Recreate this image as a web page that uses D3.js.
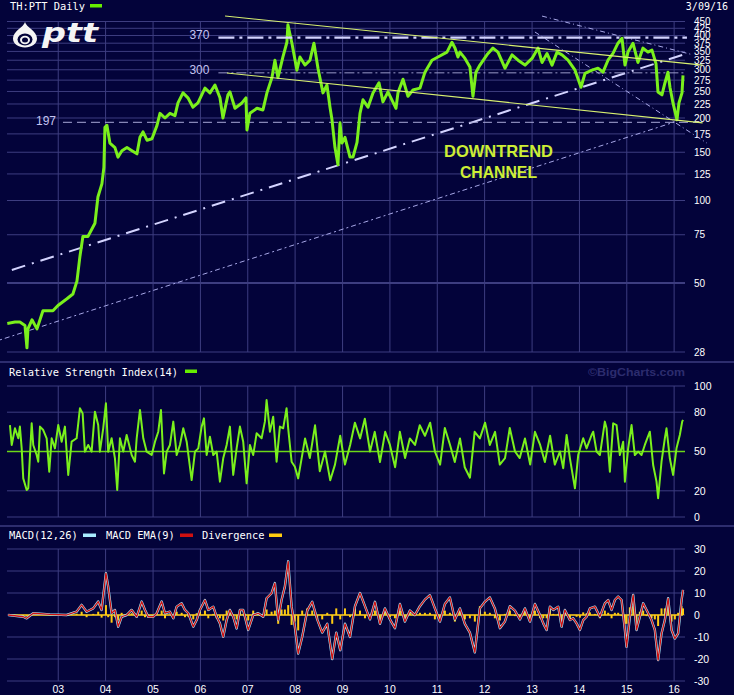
<!DOCTYPE html>
<html><head><meta charset="utf-8">
<script src="https://cdn.jsdelivr.net/npm/d3@7"></script>
<style>html,body{margin:0;padding:0;background:#03033a;}svg{display:block}</style>
</head><body><svg id="c" width="734" height="695"></svg>
<script>
// ---------------- DATA (decimal years) ----------------
const priceYears = [
2001.924,2002.086,2002.19,2002.297,2002.339,2002.36,2002.445,2002.551,2002.677,2002.888,2002.994,
2003.184,2003.310,2003.395,2003.458,2003.521,2003.627,2003.775,2003.838,2003.922,2003.964,2003.986,
2004.028,2004.091,2004.197,2004.260,2004.344,2004.450,2004.555,2004.661,2004.724,2004.788,2004.872,2004.977,
2005.083,2005.146,2005.252,2005.357,2005.463,2005.526,2005.632,2005.737,2005.843,2005.948,
2006.096,2006.202,2006.307,2006.413,2006.476,2006.582,2006.624,2006.730,2006.877,2006.962,2006.983,
2007.046,2007.194,2007.321,2007.405,2007.511,2007.574,2007.637,2007.743,2007.827,2007.848,2007.933,
2008.038,2008.102,2008.207,2008.313,2008.397,2008.482,2008.587,2008.671,2008.735,2008.777,2008.840,2008.903,2008.946,2008.988,
2009.051,2009.157,2009.220,2009.305,2009.368,2009.431,2009.537,2009.642,2009.769,2009.853,2009.959,
2010.128,2010.170,2010.276,2010.381,2010.487,2010.635,2010.740,2010.888,
2011.015,2011.205,2011.310,2011.374,2011.437,2011.479,2011.585,2011.690,2011.754,2011.817,2011.901,
2012.049,2012.176,2012.281,2012.429,2012.577,2012.704,2012.851,2012.999,
2013.126,2013.210,2013.316,2013.421,2013.527,2013.632,2013.759,2013.907,
2014.033,2014.118,2014.266,2014.392,2014.498,2014.603,2014.709,2014.814,2014.899,2014.962,
2015.025,2015.131,2015.236,2015.342,2015.447,2015.532,2015.617,2015.659,2015.743,2015.807,2015.870,2015.912,2015.976,
2016.060,2016.102,2016.166,2016.187];
const priceValues = [
35.6,36,36,35,29,34,36.7,34,39.6,39.6,41.4,
43.8,45.6,50.8,62.5,73.9,73.9,82.6,103,115,132,185,
188,162,156,144,152,156,152,148,170,178,166,168,
188,208,200,208,204,227,247,237,219,227,
257,247,264,237,200,243,249,217,227,237,181,
208,217,214,247,281,325,281,334,378,438,375,
299,334,312,325,375,304,247,264,219,197,156,135,192,162,
170,144,144,163,208,233,219,247,269,229,249,
217,247,277,240,253,257,294,325,
334,348,378,360,334,348,330,307,240,294,312,
340,360,348,304,340,325,312,330,
360,319,344,312,348,340,325,299,
259,291,299,304,294,325,344,375,391,312,
348,375,319,360,348,354,316,249,243,269,294,259,227,
197,227,247,286];

const rsiYears = [
2001.98,2002.017,2002.086,2002.156,2002.19,2002.228,2002.261,2002.333,2002.367,2002.403,2002.439,2002.472,2002.544,2002.578,2002.614,2002.683,2002.755,2002.810,2002.861,2002.930,
2003.000,2003.072,2003.141,2003.211,2003.283,2003.388,2003.458,2003.515,2003.563,2003.633,2003.705,2003.775,2003.844,2003.880,2003.950,
2004.007,2004.055,2004.127,2004.197,2004.245,2004.302,2004.372,2004.444,2004.549,2004.619,2004.655,2004.724,2004.794,2004.866,2004.971,
2005.041,2005.110,2005.167,2005.231,2005.288,2005.357,2005.427,2005.499,2005.568,2005.638,2005.710,2005.815,2005.885,2005.955,
2006.026,2006.075,2006.132,2006.201,2006.271,2006.343,2006.412,2006.482,2006.554,2006.623,2006.693,2006.765,2006.835,2006.904,2006.976,
2007.046,2007.115,2007.187,2007.293,2007.362,2007.398,2007.468,2007.537,2007.609,2007.679,2007.748,2007.820,2007.854,2007.926,2007.995,
2008.065,
2008.21,2008.31,2008.42,2008.52,2008.63,2008.74,2008.84,2008.95,
2009.05,2009.16,2009.26,2009.37,2009.47,2009.58,2009.68,2009.79,2009.90,
2010.00,2010.11,2010.21,2010.32,2010.42,2010.53,2010.63,2010.74,2010.85,2010.95,
2011.06,2011.16,2011.27,2011.37,2011.48,2011.58,2011.69,2011.79,2011.90,
2012.01,2012.11,2012.22,2012.32,2012.43,2012.53,2012.64,2012.74,2012.85,2012.96,
2013.06,2013.17,2013.27,2013.38,2013.48,
2013.588,2013.658,2013.729,2013.799,2013.905,2013.974,2014.080,2014.151,2014.257,2014.291,2014.362,2014.432,2014.537,2014.573,2014.643,2014.713,2014.784,2014.854,2014.924,2014.960,
2015.029,2015.101,2015.170,2015.240,2015.312,2015.381,2015.487,2015.557,2015.628,2015.662,2015.734,2015.804,2015.839,2015.909,2015.979,2016.050,2016.120,2016.170,2016.187];
const rsiValues = [
70.2,55.0,67.7,60.1,69.0,52.4,29.5,20.6,21.9,47.3,71.5,55.0,47.3,42.2,69.0,66.4,60.1,34.6,60.1,52.4,
70.2,57.5,69.0,32.1,57.5,60.1,83.0,79.1,49.9,55.0,49.9,80.4,70.2,49.9,67.7,
86.8,49.9,60.1,44.8,20.6,60.1,49.9,62.6,47.3,42.2,60.1,81.7,60.1,49.9,47.3,
57.5,65.1,81.7,33.3,49.9,55.0,72.8,47.3,55.0,67.7,57.5,28.2,49.9,52.4,
69.0,75.3,47.3,61.3,47.3,49.9,27.0,44.8,55.0,69.0,32.1,52.4,69.0,57.5,25.7,
55.0,47.3,63.9,60.1,72.8,89.3,65.1,76.6,42.2,69.0,67.7,83.0,67.7,42.2,38.4,
29.5,
60,45,70,35,50,28,40,62,
40,55,72,60,75,50,65,42,65,
55,38,65,45,60,55,70,62,72,50,
40,68,55,42,60,38,30,65,60,
72,55,65,40,45,68,50,45,60,40,
65,55,42,62,40,
50,37.2,62.6,44.8,21.9,47.3,60.1,52.4,62.6,65.1,49.9,47.3,72.8,67.7,34.6,71.5,70.2,47.3,57.5,27.0,
52.4,70.2,47.3,49.9,47.3,55.0,65.1,39.7,27.0,14.3,42.2,60.1,67.7,44.8,32.1,52.4,62.6,72.8,74.1];

const macdYears = [
2001.945,2002.261,2002.333,2002.472,2002.825,
2003.177,2003.388,2003.494,2003.599,2003.739,2003.844,2003.916,
2004.007,2004.055,2004.127,2004.197,2004.266,2004.338,2004.444,2004.549,2004.655,2004.760,2004.830,2004.899,
2005.005,2005.077,2005.182,2005.252,2005.357,2005.427,2005.499,2005.604,2005.674,2005.744,2005.849,2005.921,2005.990,
2006.096,2006.166,2006.271,2006.343,2006.412,2006.482,2006.554,2006.623,2006.693,2006.765,2006.835,2006.904,
2007.010,2007.115,2007.221,2007.326,2007.398,2007.503,2007.573,2007.643,2007.714,2007.784,2007.854,2007.926,2007.995,
2008.065,2008.149,2008.255,2008.360,2008.466,2008.571,2008.677,2008.782,2008.867,2008.951,
2009.051,2009.157,2009.262,2009.368,2009.473,2009.579,2009.684,2009.790,2009.895,
2010.001,2010.106,2010.212,2010.317,2010.423,2010.528,2010.634,2010.739,2010.845,2010.950,
2011.056,2011.161,2011.267,2011.372,2011.478,2011.583,2011.689,2011.794,2011.900,
2012.005,2012.111,2012.216,2012.322,2012.427,2012.533,2012.638,2012.744,2012.849,2012.955,
2013.060,2013.166,2013.236,2013.307,2013.377,2013.447,2013.552,2013.623,2013.693,2013.799,2013.868,2013.940,
2014.010,2014.080,2014.151,2014.221,2014.327,2014.432,2014.537,2014.607,2014.679,2014.748,2014.818,2014.890,2014.960,2014.995,
2015.065,2015.135,2015.206,2015.276,2015.346,2015.418,2015.523,2015.593,2015.662,2015.734,2015.804,2015.874,2015.946,
2016.015,2016.085,2016.157,2016.187];
const macdValues = [
0,-0.8,-1.5,0.8,0.3,
0,1.5,4.6,1.5,3.0,6.1,2.3,
19.0,12.9,0.8,2.3,-5.3,-0.8,0,2.3,-0.8,6.1,2.3,-0.8,
-0.8,0.8,6.1,0.8,1.5,-1.5,3.8,5.3,2.3,0.8,-5.3,-2.3,2.3,
6.8,2.3,3.8,-0.8,-3.8,-9.9,-2.3,2.3,-0.8,-6.1,2.3,2.3,
-6.8,0,0.8,-0.8,7.6,9.9,14.5,-2.3,6.8,12.9,24.4,3.8,-5.3,
-17.5,-10,2,6,-2,-8,-4,-20,-8,-16,
-4,-10,4,10,4,-2,6,-4,3,
-2,-6,5,-3,2,0,4,7,9,3,
-3,5,8,-2,3,-4,-8,-17,3,
6,8,3,-6,-3,4,2,-2,3,-3,
5,0,-3.8,-6.8,3.8,2.3,3.8,-5.3,2.3,-2.3,-1.5,-3.8,
-6.8,-2.3,-0.8,3.0,3.8,-0.8,5.3,6.8,2.3,6.8,8.4,6.8,-6.8,-14.5,
-0.8,9.1,-6.8,-0.8,5.3,2.3,-2.3,-6.8,-20.5,-8.4,-2.3,7.6,-6.8,
-10.7,-8.4,6.8,11.4];
const divergenceValues = [
0,-0.5,-0.6,0.8,0.1,
0,0.6,1.5,-1,0.5,1.5,-1.2,
4.5,-1,-3.5,-1,-2.5,1,0.5,0.8,-1,2,-1,-1.2,
-0.3,0.5,2,-1.5,0.2,-1,1.5,1,-1,-0.8,-2,0.8,1.5,
2,-1.5,0.5,-1.5,-1.5,-2.5,2,2,-1,-2,2.5,0.5,
-2.5,2,0.5,-0.5,2.5,1.5,2,-4,2.5,2.5,4.5,-4.5,-3,
-7,2,3,2,-2,-2,1,-4,3,-2,
3,-1,3,2,-1.5,-2,2,-2,1.5,
-1,-1.5,2,-2,1,-0.5,1,1,1,-2,
-2,2,1,-3,1.5,-2,-1.5,-3,4,
1.5,1,-1.5,-2.5,0.5,2,-0.5,-1,1.5,-1.5,
2,-1.5,-1.5,-1.5,3,0.5,0.5,-2.5,2,-1.5,0,-0.8,
-1.2,1.2,0.8,1.2,0.5,-1.5,2,1,-1.5,1,1,-0.5,-4,-4,
3.5,4,-4,1.5,2,-0.5,-1.5,-2,-5,3,3,4,-3,
-2,1,4,3];

const priceTicks = [28,50,75,100,125,150,175,200,225,250,275,300,325,350,375,400,425,450];
const rsiTicks = [0,20,50,80,100];
const macdTicks = [-30,-20,-10,0,10,20,30];

// annotation lines: [year, price] endpoints
const upperChannel = [[2006.52,471],[2016.60,312]];
const lowerChannel = [[2006.56,292],[2016.60,192]];
const line370 = [[2006.38,392.7],[2016.27,392.7]];
const line300 = [[2006.38,292.3],[2016.23,292.3]];
const line197 = [[2003.10,192.9],[2016.55,192.9]];
const riseDashDot = [[2002.02,55.8],[2016.29,345]];
const riseDotted = [[2001.77,31.0],[2016.01,193.4]];
const fallA = [[2013.21,471],[2016.40,340]];
const fallB = [[2013.06,412],[2016.69,162]];

// ---------------- DRAW ----------------
const BG = "#03033a", GRID = "#3d3d80", WHITE = "#ffffff";
const GREEN = "#7af01c";
const toDate = v => { const y = Math.floor(v); const a = Date.UTC(y,0,1), b = Date.UTC(y+1,0,1); return new Date(a + (v-y)*(b-a)); };

const svg = d3.select("#c");
svg.append("rect").attr("width",734).attr("height",695).attr("fill",BG);

const X0 = 7, X1 = 685;
const x = d3.scaleUtc()
  .domain([toDate(priceYears[0]), toDate(priceYears[priceYears.length-1])])
  .range([7.3, 683]);
const yP = d3.scaleLog().domain([28,450]).range([352,21.5]);
const yR = d3.scaleLinear().domain([0,100]).range([517,386]);
const yM = d3.scaleLinear().domain([-30,30]).range([681,549]);

// first labelled year boundary is 2003 (the partial first month carries none)
const yearTicks = x.ticks(d3.utcYear.every(1)).filter(d => x(d) > 30 && x(d) < X1);

const g = svg.append("g");
const sans = "'Liberation Sans', Arial, sans-serif";
const mono = "'DejaVu Sans Mono', monospace";

function panelGrid(yScale, ticks, top, bottom, skip) {
  ticks.forEach(t => {
    if (skip && skip(t)) return;
    g.append("line").attr("x1",X0).attr("x2",X1)
      .attr("y1",yScale(t)).attr("y2",yScale(t))
      .attr("stroke",GRID).attr("stroke-width", t===50 && yScale===yP ? 2 : 1);
  });
  yearTicks.forEach(d => {
    g.append("line").attr("x1",x(d)).attr("x2",x(d))
      .attr("y1",top).attr("y2",bottom).attr("stroke",GRID).attr("stroke-width",1);
  });
}
panelGrid(yP, priceTicks, yP(450), yP(28));
panelGrid(yR, rsiTicks, yR(100), yR(0), t => t===50);
panelGrid(yM, macdTicks, yM(30), yM(-30));

// panel separators
[362, 526].forEach(yy => g.append("line").attr("x1",0).attr("x2",734).attr("y1",yy).attr("y2",yy)
  .attr("stroke",GRID).attr("stroke-width",1.5));

// axis labels
function yLabels(yScale, ticks, fs) {
  ticks.forEach(t => g.append("text").attr("x",694).attr("y",yScale(t)).attr("dy","0.36em")
    .attr("fill",WHITE).attr("font-family",sans).attr("font-size",fs).text(t));
}
yLabels(yP, priceTicks, 10);
yLabels(yR, rsiTicks, 10.5);
yLabels(yM, macdTicks, 10.5);
const fmtYear = d3.utcFormat("%y");
yearTicks.forEach(d => g.append("text").attr("x",x(d)).attr("y",693).attr("text-anchor","middle")
  .attr("fill",WHITE).attr("font-family",sans).attr("font-size",10.5).text(fmtYear(d)));

// ---- annotations (main panel) ----
const seg = (pts) => d3.line().x(p => x(toDate(p[0]))).y(p => yP(p[1]))(pts);
function ann(pts, color, w, dash) {
  svg.append("path").attr("d",seg(pts)).attr("fill","none").attr("stroke",color)
    .attr("stroke-width",w).attr("stroke-dasharray",dash || null);
}
ann(riseDotted, "#a8a8e8", 1, "2,3,5,3");
ann(riseDashDot, "#d4d4ff", 2, "14,7,2,7");
ann(fallA, "#a8a8e8", 1, "5,3,1,3");
ann(fallB, "#a8a8e8", 1, "5,3,1,3");
ann(line197, "#a8a8d8", 1, "9,5");
ann(line300, "#9a9ac8", 1, "10,3,2,3");

// price
const priceData = priceYears.map((v,i) => [toDate(v), priceValues[i]]);
svg.append("path").datum(priceData)
  .attr("d", d3.line().x(d => x(d[0])).y(d => yP(d[1])))
  .attr("fill","none").attr("stroke",GREEN).attr("stroke-width",3).attr("stroke-linejoin","round");

ann(line370, "#d4d4ff", 2.2, "16,5,3,5");
ann(upperChannel, "#d8f070", 1.1);
ann(lowerChannel, "#d8f070", 1.1);

const annLab = (txt, px, py) => svg.append("text").attr("x",px).attr("y",py).attr("dy","0.36em")
  .attr("fill","#c4c4f0").attr("font-family",sans).attr("font-size",12).text(txt);
annLab("370", x(toDate(line370[0][0])) - 29, yP(line370[0][1]) - 3);
annLab("300", x(toDate(line300[0][0])) - 29, yP(line300[0][1]) - 3);
annLab("197", x(toDate(line197[0][0])) - 27, yP(line197[0][1]) - 2);

const dt = svg.append("text").attr("font-family",sans).attr("font-weight","bold").attr("font-size",17)
  .attr("fill","#cdee35").attr("text-anchor","middle");
dt.append("tspan").attr("x",498.5).attr("y",157).attr("textLength",109).attr("lengthAdjust","spacingAndGlyphs").text("DOWNTREND");
dt.append("tspan").attr("x",498.5).attr("y",178).attr("textLength",77).attr("lengthAdjust","spacingAndGlyphs").text("CHANNEL");

// logo
const logo = svg.append("g");
logo.append("path").attr("d","M25,22 C26,27 37,31 37,38.5 C37,44 31.5,47.5 25,47.5 C18.5,47.5 13,44 13,38.5 C13,31 24,27 25,22 Z").attr("fill","#f4f4f4");
logo.append("ellipse").attr("cx",25).attr("cy",39.5).attr("rx",7.5).attr("ry",6).attr("fill",BG);
logo.append("ellipse").attr("cx",25).attr("cy",40).attr("rx",5).attr("ry",4.2).attr("fill","#f4f4f4");
logo.append("ellipse").attr("cx",25).attr("cy",40).attr("rx",3).attr("ry",2.5).attr("fill",BG);
logo.append("text").attr("x",42).attr("y",42).attr("font-family","'DejaVu Sans', sans-serif")
  .attr("font-weight","bold").attr("font-style","italic").attr("font-size",26)
  .attr("textLength",56).attr("lengthAdjust","spacingAndGlyphs").attr("fill","#f4f4f4").text("ptt");

// RSI
svg.append("line").attr("x1",X0).attr("x2",X1).attr("y1",yR(50)).attr("y2",yR(50))
  .attr("stroke","#6cd818").attr("stroke-width",1.5);
const rsiData = rsiYears.map((v,i) => [toDate(v), rsiValues[i]]);
svg.append("path").datum(rsiData)
  .attr("d", d3.line().x(d => x(d[0])).y(d => yR(d[1])))
  .attr("fill","none").attr("stroke",GREEN).attr("stroke-width",2).attr("stroke-linejoin","round");

// MACD
const macdData = macdYears.map((v,i) => [toDate(v), macdValues[i], divergenceValues[i]]);
svg.append("line").attr("x1",x(macdData[0][0])).attr("x2",x(macdData[macdData.length-1][0]))
  .attr("y1",yM(0)).attr("y2",yM(0)).attr("stroke","#ffcc11").attr("stroke-width",1.5);
svg.append("g").selectAll("rect").data(macdData).join("rect")
  .attr("x", d => x(d[0]) - 1).attr("width", 2)
  .attr("y", d => yM(Math.max(0,d[2]))).attr("height", d => Math.abs(yM(d[2]) - yM(0)))
  .attr("fill","#ffcc11");
const mLine = d3.line().x(d => x(d[0])).y(d => yM(d[1]));
svg.append("path").datum(macdData).attr("d", mLine).attr("fill","none")
  .attr("stroke","#a8ecff").attr("stroke-width",2.4).attr("stroke-linejoin","round");
svg.append("path").datum(macdData).attr("d", mLine).attr("fill","none")
  .attr("stroke","#d01010").attr("stroke-width",1.3).attr("stroke-linejoin","round");

// headers & legends
const hdr = (txt, px, py) => svg.append("text").attr("x",px).attr("y",py).attr("fill",WHITE)
  .attr("font-family",mono).attr("font-size",10.4).text(txt);
hdr("TH:PTT Daily", 10, 10);
svg.append("rect").attr("x",90).attr("y",4).attr("width",12).attr("height",3.5).attr("fill","#66ee00");
svg.append("text").attr("x",728).attr("y",10).attr("text-anchor","end").attr("fill",WHITE)
  .attr("font-family",mono).attr("font-size",10).text("3/09/16");

hdr("Relative Strength Index(14)", 9, 376);
svg.append("rect").attr("x",185).attr("y",369.5).attr("width",12).attr("height",3.5).attr("fill","#66ee00");
svg.append("text").attr("x",685).attr("y",376).attr("text-anchor","end").attr("fill","#2c2c6e")
  .attr("font-family",sans).attr("font-weight","bold").attr("font-size",11)
  .attr("textLength",97).attr("lengthAdjust","spacingAndGlyphs").text("\u00A9BigCharts.com");

hdr("MACD(12,26)", 9, 539);
svg.append("rect").attr("x",83).attr("y",533.5).attr("width",13).attr("height",3.5).attr("fill","#a8ecff");
hdr("MACD EMA(9)", 106, 539);
svg.append("rect").attr("x",180).attr("y",533.5).attr("width",13).attr("height",3.5).attr("fill","#d01010");
hdr("Divergence", 202, 539);
svg.append("rect").attr("x",269).attr("y",533.5).attr("width",13).attr("height",3.5).attr("fill","#ffcc11");
</script></body></html>
